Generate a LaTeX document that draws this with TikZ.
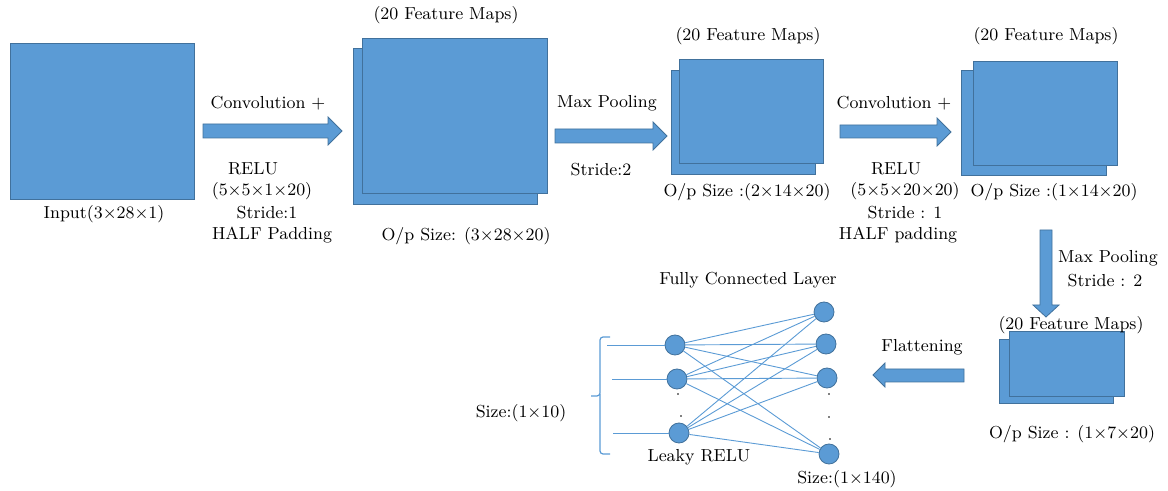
\documentclass[tikz,border=0pt]{standalone}
\usepackage{fontspec}
\usetikzlibrary{shapes.geometric}
\definecolor{boxblue}{HTML}{5B9BD5}
\definecolor{edgeblue}{HTML}{41719C}
\tikzset{
  fmap/.style={fill=boxblue, draw=edgeblue, line width=0.45pt},
  blockarrow/.style={fill=boxblue, draw=edgeblue, line width=0.4pt},
  neuron/.style={circle, fill=boxblue, draw=edgeblue, line width=0.4pt, minimum size=10pt, inner sep=0pt},
  link/.style={draw=boxblue, line width=0.45pt},
  lbl/.style={font=\fontsize{8.7}{10}\selectfont, inner sep=0pt, anchor=center}
}
\begin{document}
\begin{tikzpicture}[x=0.5pt,y=-0.5pt]
\useasboundingbox (0,0) rectangle (1168,491);
% input
\draw[fmap] (10,43) rectangle (194,199);
\node[lbl] (inlbl) at (104,214) {Input(3×28×1)};
% arrow 1
\draw[blockarrow] (203,124) -- (328,124) -- (328,117) -- (342,131) -- (328,145) -- (328,138) -- (203,138) -- cycle;
\node[lbl] (c1a) at (268,103) {Convolution +};
\node[lbl] (c1b) at (253,169) {RELU};
\node[lbl] (c1c) at (262,191) {(5×5×1×20)};
\node[lbl] (c1d) at (267,213) {Stride:1};
\node[lbl] (c1e) at (272,235) {HALF Padding};
% feature maps 1
\draw[fmap] (353,48) rectangle (537,204);
\draw[fmap] (362,38) rectangle (547,193);
\node[lbl] (f1t) at (446,15) {(20 Feature Maps)};
\node[lbl] (f1b) at (466,236) {O/p Size: (3×28×20)};
% arrow 2
\draw[blockarrow] (555,129) -- (653,129) -- (653,122) -- (667,136) -- (653,150) -- (653,143) -- (555,143) -- cycle;
\node[lbl] (p1a) at (607,103) {Max Pooling};
\node[lbl] (p1b) at (601,170) {Stride:2};
% feature maps 2
\draw[fmap] (671,70) rectangle (815,174);
\draw[fmap] (679,59) rectangle (823,163);
\node[lbl] (f2t) at (748,36) {(20 Feature Maps)};
\node[lbl] (f2b) at (747,192) {O/p Size :(2×14×20)};
% arrow 3
\draw[blockarrow] (840,125) -- (937,125) -- (937,118) -- (951,132) -- (937,146) -- (937,138) -- (840,138) -- cycle;
\node[lbl] (c2a) at (894,103) {Convolution +};
\node[lbl] (c2b) at (896,169) {RELU};
\node[lbl] (c2c) at (905,191) {(5×5×20×20)};
\node[lbl] (c2d) at (905,213) {Stride : 1};
\node[lbl] (c2e) at (898,235) {HALF padding};
% feature maps 3
\draw[fmap] (961,70) rectangle (1106,175);
\draw[fmap] (973,61) rectangle (1117,165);
\node[lbl] (f3t) at (1046,36) {(20 Feature Maps)};
\node[lbl] (f3b) at (1054,192) {O/p Size :(1×14×20)};
% down arrow
\draw[blockarrow] (1040,230) -- (1052,230) -- (1052,305) -- (1059,305) -- (1046,317) -- (1033,305) -- (1040,305) -- cycle;
\node[lbl] (p2a) at (1108,258) {Max Pooling};
\node[lbl] (p2b) at (1105,281) {Stride : 2};
% feature maps 4
\draw[fmap] (999,339) rectangle (1113,403);
\draw[fmap] (1009,331) rectangle (1124,396);
\node[lbl] (f4t) at (1071,325) {(20 Feature Maps)};
\node[lbl] (f4b) at (1072,434) {O/p Size : (1×7×20)};
% flattening arrow
\draw[blockarrow] (964,369) -- (885,369) -- (885,363) -- (873,375) -- (885,387) -- (885,382) -- (964,382) -- cycle;
\node[lbl] (flat) at (922,347) {Flattening};
% fully connected
\node[lbl] (fct) at (748,280) {Fully Connected Layer};
\node[neuron] (n1) at (675,345) {};
\node[neuron] (n2) at (677,379) {};
\node[neuron] (n3) at (679,433) {};
\node[neuron] (m1) at (824,312) {};
\node[neuron] (m2) at (826,344) {};
\node[neuron] (m3) at (827,378) {};
\node[neuron] (m4) at (829,454) {};
\foreach \a in {n1,n2,n3}{
  \foreach \b in {m1,m2,m3,m4}{
    \draw[link] (\a) -- (\b);
  }
}
\coordinate (i1) at (607,345);
\coordinate (i2) at (612,379);
\coordinate (i3) at (613,433);
\draw[link] (i1) -- (n1);
\draw[link] (i2) -- (n2);
\draw[link] (i3) -- (n3);
% dots
\fill (678,394) circle (0.45pt);
\fill (681,416) circle (0.45pt);
\fill (829,394) circle (0.45pt);
\fill (829,417) circle (0.45pt);
\fill (830,439) circle (0.45pt);
% brace
\draw[link, line width=0.6pt, rounded corners=1.5pt] (610,337) -- (600,337) -- (600,396) -- (591,396);
\draw[link, line width=0.6pt, rounded corners=1.5pt] (600,394) -- (600,454) -- (610,454);
\node[lbl] (sz10) at (521,413) {Size:(1×10)};
\node[lbl] (leaky) at (699,457) {Leaky RELU};
\node[lbl] (sz140) at (847,479) {Size:(1×140)};
\end{tikzpicture}
\end{document}
